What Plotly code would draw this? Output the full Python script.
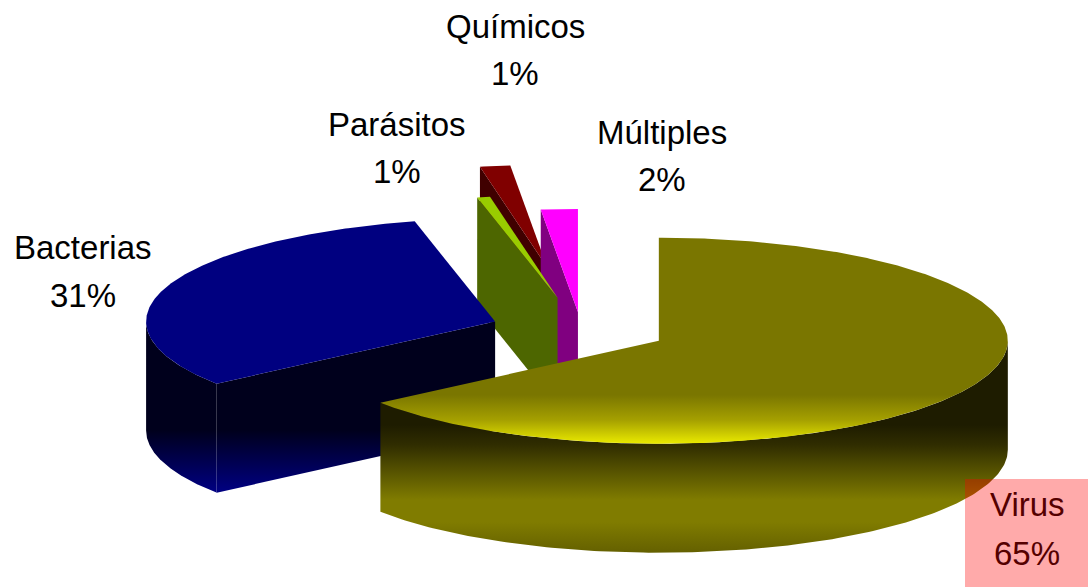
import numpy as np
import plotly.graph_objects as go

# ---- data ----
categories = ["Virus", "Bacterias", "Parásitos", "Químicos", "Múltiples"]
values = [64.7, 31.6, 0.6, 1.4, 1.7]
pct_labels = ["65%", "31%", "1%", "1%", "2%"]
explode = [0.2555, 0.2555, 0.31, 0.62, 0.165]

# ---- styling / projection ----
W, H = 1088, 587
CX, CY = 579.0, 329.0      # pie centre
RX, RY = 349.0, 103.0      # top ellipse radii
DEPTH = 109.0              # extrusion
FONT = "Liberation Sans, Arial, sans-serif"
FS = 33
nudge = {"Virus": (0, 0), "Bacterias": (0, 1.5), "Parásitos": (1.5, 0),
         "Químicos": (1, 2), "Múltiples": (2, 0)}

top_fill = {
    "Virus": [(237, "rgb(122,118,0)"), (395, "rgb(122,118,0)"), (420, "rgb(165,160,0)"), (444, "rgb(235,235,0)")],
    "Bacterias": "rgb(0,0,128)", "Parásitos": "rgb(153,204,0)",
    "Químicos": "rgb(128,0,0)", "Múltiples": "rgb(255,0,255)",
}
wall_fill = {
    "Virus": [(341, "rgb(30,28,0)"), (425, "rgb(30,28,0)"), (445, "rgb(48,45,0)"), (500, "rgb(128,124,0)"),
              (522, "rgb(128,124,0)"), (553, "rgb(100,96,0)")],
    "Bacterias": [(300, "rgb(0,0,28)"), (430, "rgb(0,0,28)"), (491, "rgb(0,0,128)")],
    "Parásitos": "rgb(77,102,0)", "Químicos": "rgb(64,0,0)", "Múltiples": "rgb(128,0,128)",
}
# label centre x, first-line centre y, second-line centre y
label_pos = {
    "Virus": (1027, 504, 553), "Bacterias": (83, 247, 295), "Parásitos": (397, 124, 171),
    "Químicos": (515, 26, 73), "Múltiples": (662, 132, 179),
}
draw_order = ["Químicos", "Múltiples", "Parásitos", "Bacterias", "Virus"]

fig = go.Figure()


def add_poly(x, y, fill):
    kw = dict(x=x, y=y, mode="lines", fill="toself", line=dict(width=0),
              hoverinfo="skip", showlegend=False)
    if isinstance(fill, str):
        kw["fillcolor"] = fill
    else:
        y0, y1 = fill[0][0], fill[-1][0]
        kw["fillgradient"] = dict(type="vertical", start=y0, stop=y1,
                                  colorscale=[[(p - y0) / (y1 - y0), c] for p, c in fill])
    fig.add_trace(go.Scatter(**kw))


def pt(ax, ay, deg):
    a = np.radians(deg)
    return ax + RX * np.sin(a), ay - RY * np.cos(a)


bounds = np.concatenate([[0], np.cumsum(values)]) * 360.0 / sum(values)
geom = {}
for i, name in enumerate(categories):
    a0, a1 = bounds[i], bounds[i + 1]
    mid = (a0 + a1) / 2
    ax, ay = pt(CX, CY, mid)
    ax = CX + (ax - CX) * explode[i] + nudge[name][0]
    ay = CY + (ay - CY) * explode[i] + nudge[name][1]
    geom[name] = (a0, a1, ax, ay)

for name in draw_order:
    a0, a1, ax, ay = geom[name]
    # radial wall facing the viewer (the edge at angle a0 for left-hand slices)
    if 180 < a0 < 360:
        ex, ey = pt(ax, ay, a0)
        add_poly([ax, ex, ex, ax, ax], [ay, ey, ey + DEPTH, ay + DEPTH, ay], wall_fill[name])
    # visible part of outer rim: angles between 90 and 270
    lo, hi = max(a0, 90), min(a1, 270)
    if hi > lo:
        t = np.linspace(lo, hi, 160)
        rx, ry = pt(ax, ay, t)
        add_poly(np.concatenate([rx, rx[::-1]]), np.concatenate([ry, ry[::-1] + DEPTH]), wall_fill[name])
    # top face
    t = np.linspace(a0, a1, max(int((a1 - a0) * 2), 3))
    tx, ty = pt(ax, ay, t)
    add_poly(np.concatenate([[ax], tx, [ax]]), np.concatenate([[ay], ty, [ay]]), top_fill[name])

for name, pct in zip(categories, pct_labels):
    lx, ly1, ly2 = label_pos[name]
    color = "#550000" if name == "Virus" else "#000000"
    for txt, ly in ((name, ly1), (pct, ly2)):
        fig.add_annotation(x=lx, y=ly, xref="x", yref="y", text=txt, showarrow=False,
                           xanchor="center", yanchor="middle",
                           font=dict(family=FONT, size=FS, color=color))

# translucent red label box laid over everything
fig.add_shape(type="rect", xref="x", yref="y", x0=965, x1=1088, y0=479, y1=587,
              fillcolor="rgba(255,0,0,0.3333)", line=dict(width=0), layer="above")

fig.update_layout(width=W, height=H, margin=dict(l=0, r=0, t=0, b=0),
                  paper_bgcolor="white", plot_bgcolor="white", showlegend=False,
                  xaxis=dict(range=[0, W], visible=False, fixedrange=True),
                  yaxis=dict(range=[H, 0], visible=False, fixedrange=True))
fig.write_html("out.html", config={"displayModeBar": False},
               post_script="document.body.style.margin='0';document.body.style.overflow='hidden';")
